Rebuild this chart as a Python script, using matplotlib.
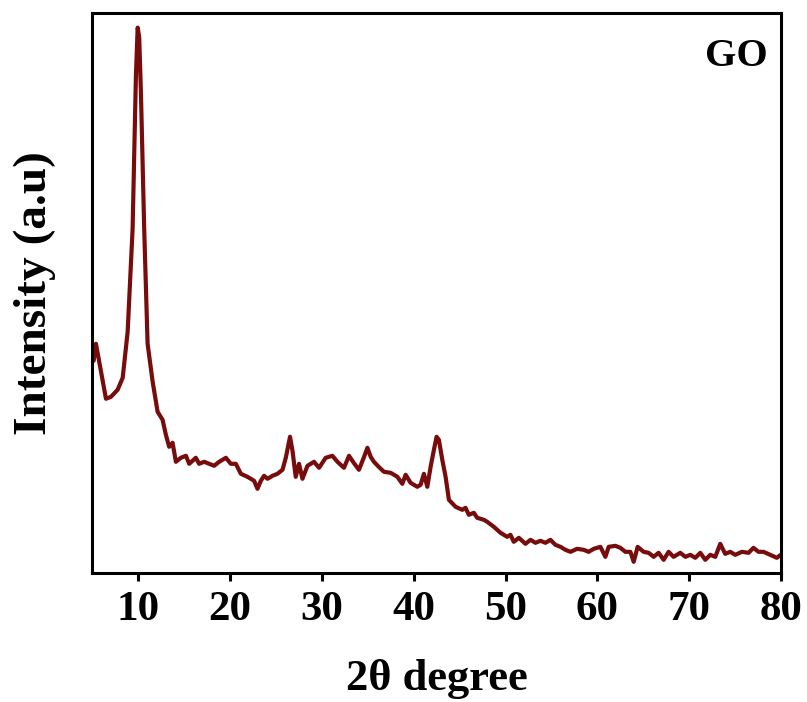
import matplotlib
matplotlib.use("Agg")
import matplotlib.pyplot as plt

# XRD pattern of GO (intensity in arbitrary units)
two_theta = [5.18, 5.43, 6.52, 7.07, 7.79, 8.34, 8.88, 9.42, 9.78, 9.97, 10.14, 10.33,
             10.68, 11.05, 11.60, 12.14, 12.68, 13.04, 13.40, 13.77, 14.13, 14.67, 15.22,
             15.58, 16.30, 16.66, 17.21, 17.75, 18.29, 18.84, 19.57, 20.11, 20.65, 21.20,
             21.92, 22.64, 23.01, 23.37, 23.73, 24.10, 24.64, 25.18, 25.73, 26.09, 26.55,
             26.82, 27.17, 27.53, 27.90, 28.45, 29.16, 29.71, 30.43, 31.16, 31.71, 32.42,
             32.97, 33.48, 34.05, 34.57, 34.97, 35.33, 35.68, 36.20, 36.77, 37.50, 38.23,
             38.77, 39.13, 39.67, 40.40, 40.76, 41.12, 41.49, 41.85, 42.21, 42.50, 42.75,
             43.12, 43.48, 43.84, 44.57, 45.29, 45.65, 46.01, 46.55, 46.92, 47.64, 48.01,
             48.73, 49.46, 50.18, 50.54, 50.90, 51.45, 52.17, 52.72, 53.26, 53.80, 54.35,
             54.89, 55.43, 55.98, 56.52, 57.07, 57.79, 58.51, 59.05, 59.60, 60.33, 60.87,
             61.23, 61.96, 62.50, 63.04, 63.59, 63.95, 64.38, 65.03, 65.58, 66.12, 66.66,
             67.21, 67.75, 68.29, 69.02, 69.57, 70.11, 70.65, 71.20, 71.74, 72.28, 72.83,
             73.37, 73.91, 74.46, 75.00, 75.73, 76.45, 76.98, 77.53, 78.08, 78.80, 79.53,
             79.95]
intensity = [212, 229, 174, 176, 183, 195, 241, 344, 497, 545, 535, 478,
             344, 229, 191, 161, 153, 138, 126, 130, 111, 115, 117,
             109, 115, 109, 111, 109, 107, 111, 115, 109, 109, 99,
             96, 92, 84, 92, 97, 94, 97, 99, 103, 115, 136,
             122, 96, 109, 94, 107, 111, 105, 115, 117, 111, 105,
             117, 110, 103, 115, 125, 116, 111, 106, 101, 100, 96,
             89, 98, 90, 86, 88, 99, 86, 106, 123, 136, 133,
             113, 96, 73, 66, 63, 65, 58, 60, 55, 53, 51,
             46, 40, 36, 38, 31, 35, 29, 33, 30, 32, 30,
             33, 28, 26, 23, 21, 24, 23, 21, 24, 26, 16,
             26, 27, 25, 21, 21, 11, 26, 21, 20, 16, 20,
             13, 21, 16, 20, 16, 18, 15, 20, 13, 18, 16,
             29, 19, 21, 18, 21, 20, 25, 21, 21, 18, 15,
             18]
x_ticks = [10, 20, 30, 40, 50, 60, 70, 80]
sample_name = "GO"

plt.rcParams['font.family'] = ['Liberation Serif', 'DejaVu Serif']
plt.rcParams['font.weight'] = 'bold'

fig = plt.figure(figsize=(8.07, 7.02), dpi=100)
ax = fig.add_axes([0.114, 0.184, 0.854, 0.798])

# the pattern itself
ax.plot(two_theta, intensity, color='#780c0c', linewidth=3.0,
        solid_joinstyle='round', solid_capstyle='round')

ax.set_xlim(5, 80)
ax.set_ylim(0, 560)
ax.set_xticks(x_ticks)
ax.set_yticks([])
for lbl in ax.get_xticklabels():
    lbl.set_fontweight('bold')
ax.tick_params(axis='x', direction='out', length=6, width=2.2, labelsize=31, pad=7)

for side in ax.spines.values():
    side.set_linewidth(2.2)

ax.set_xlabel('2θ degree', fontsize=32, fontweight='bold', labelpad=22)
ax.set_ylabel('Intensity (a.u)', fontsize=34, fontweight='bold', labelpad=26)

# sample label in the corner
ax.text(0.98, 0.955, sample_name, transform=ax.transAxes, ha='right', va='top',
        fontsize=29, fontweight='bold')

fig.savefig('out.png', dpi=100)
